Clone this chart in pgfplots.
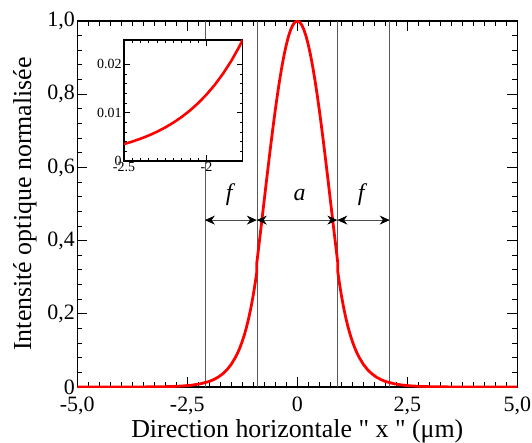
\documentclass[border=0pt]{standalone}
\usepackage{pgfplots}
\pgfplotsset{compat=1.18}
\usepackage{fontspec}
\setmainfont{Liberation Serif}
\newfontfamily\qfont{Liberation Serif}
\usetikzlibrary{arrows.meta}
\begin{document}
\begin{tikzpicture}
\begin{axis}[
  name=main,
  scale only axis,
  width=440bp, height=366bp,
  xmin=-5, xmax=5, ymin=0, ymax=1,
  axis line style={line width=1.4pt},
  tick align=inside,
  major tick length=10bp, minor tick length=5bp,
  every tick/.style={black, line width=0.9pt},
  xtick={-5,-2.5,0,2.5,5},
  xticklabels={{\textrm{-5,0}},{\textrm{-2,5}},{\textrm{0}},{\textrm{2,5}},{\textrm{5,0}}},
  ytick={0,0.2,0.4,0.6,0.8,1},
  yticklabels={{\textrm{0}},{\textrm{0,2}},{\textrm{0,4}},{\textrm{0,6}},{\textrm{0,8}},{\textrm{1,0}}},
  minor x tick num=9, minor y tick num=4,
  ticklabel style={font=\fontsize{22}{24}\selectfont},
  xticklabel style={yshift=-6bp},
  yticklabel style={xshift=1bp},
  label style={font=\fontsize{26}{28}\selectfont},
  xlabel={Direction horizontale {\qfont"} x {\qfont"} (μm)},
  ylabel={Intensité optique normalisée},
  ylabel style={yshift=4bp},
  xlabel style={yshift=2bp},
]
\addplot[gray!70!black, line width=0.6pt] coordinates {(-2.1,0) (-2.1,1)};
\addplot[gray!70!black, line width=0.6pt] coordinates {(-0.92,0) (-0.92,1)};
\addplot[gray!70!black, line width=0.6pt] coordinates {(0.91,0) (0.91,1)};
\addplot[gray!70!black, line width=0.6pt] coordinates {(2.1,0) (2.1,1)};
\addplot[red, line width=2.8pt] coordinates {
(-5,0) (-4,0.00006) (-3.5,0.0002) (-3,0.0009) (-2.8,0.0016) (-2.6,0.0029) (-2.4,0.0050) (-2.2,0.0088) (-2.0,0.0153) (-1.9,0.0203) (-1.8,0.0268) (-1.7,0.0355) (-1.6,0.0469) (-1.5,0.0621) (-1.4,0.0822) (-1.35,0.0945) (-1.3,0.1087) (-1.25,0.1250) (-1.2,0.1438) (-1.15,0.1654) (-1.1,0.1903) (-1.05,0.2189) (-1.0,0.2518) (-0.95,0.2896) (-0.92,0.315) (-0.92,0.339) (-0.9,0.3597) (-0.85,0.4096) (-0.8,0.4609) (-0.75,0.5122) (-0.7,0.5638) (-0.65,0.6142) (-0.6,0.6639) (-0.55,0.7115) (-0.5,0.7572) (-0.45,0.7998) (-0.4,0.8394) (-0.35,0.8754) (-0.3,0.9074) (-0.25,0.9350) (-0.2,0.9581) (-0.15,0.9763) (-0.1,0.9894) (-0.05,0.9973) (0,1)
(0.05,0.9973) (0.1,0.9894) (0.15,0.9763) (0.2,0.9581) (0.25,0.9350) (0.3,0.9074) (0.35,0.8754) (0.4,0.8394) (0.45,0.7998) (0.5,0.7572) (0.55,0.7115) (0.6,0.6639) (0.65,0.6142) (0.7,0.5638) (0.75,0.5122) (0.8,0.4609) (0.85,0.4096) (0.9,0.3597) (0.92,0.339) (0.92,0.315) (0.95,0.2896) (1.0,0.2518) (1.05,0.2189) (1.1,0.1903) (1.15,0.1654) (1.2,0.1438) (1.25,0.1250) (1.3,0.1087) (1.35,0.0945) (1.4,0.0822) (1.5,0.0621) (1.6,0.0469) (1.7,0.0355) (1.8,0.0268) (1.9,0.0203) (2.0,0.0153) (2.2,0.0088) (2.4,0.0050) (2.6,0.0029) (2.8,0.0016) (3,0.0009) (3.5,0.0002) (4,0.00006) (5,0)
};
\addplot[gray!60!black, line width=0.8pt, {Stealth[length=10bp,width=9bp,black]}-{Stealth[length=10bp,width=9bp,black]}] coordinates {(-2.1,0.456) (-0.92,0.456)};
\addplot[gray!60!black, line width=0.8pt, {Stealth[length=10bp,width=9bp,black]}-{Stealth[length=10bp,width=9bp,black]}] coordinates {(-0.92,0.456) (0.91,0.456)};
\addplot[gray!60!black, line width=0.8pt, {Stealth[length=10bp,width=9bp,black]}-{Stealth[length=10bp,width=9bp,black]}] coordinates {(0.91,0.456) (2.1,0.456)};
\node[font=\fontsize{24}{26}\selectfont\itshape] at (axis cs:-1.55,0.525) {f};
\node[font=\fontsize{24}{26}\selectfont\itshape] at (axis cs:0.05,0.525) {a};
\node[font=\fontsize{24}{26}\selectfont\itshape] at (axis cs:1.45,0.525) {f};
\end{axis}
\begin{axis}[
  at={(46.7bp,226bp)}, anchor=south west,
  scale only axis,
  width=118.7bp, height=121bp,
  xmin=-2.5, xmax=-1.78, ymin=0, ymax=0.025,
  axis background/.style={fill=white},
  axis line style={line width=1.2pt},
  tick align=inside,
  major tick length=6bp, minor tick length=3bp,
  every tick/.style={black, line width=0.7pt},
  xtick={-2.5,-2}, xticklabels={{\textrm{-2.5}},{\textrm{-2}}},
  ytick={0,0.01,0.02}, yticklabels={{\textrm{0}},{\textrm{0.01}},{\textrm{0.02}}},
  scaled ticks=false,
  minor x tick num=9, minor y tick num=4,
  ticklabel style={font=\fontsize{14}{16}\selectfont},
  xticklabel style={yshift=2bp},
  yticklabel style={xshift=1bp},
]
\addplot[red, line width=2.6pt] coordinates {
(-2.5,0.0035) (-2.45,0.00401) (-2.4,0.00460) (-2.35,0.00527) (-2.3,0.00604) (-2.25,0.00693) (-2.2,0.00794) (-2.15,0.00910) (-2.1,0.01043) (-2.05,0.01196) (-2.0,0.01371) (-1.95,0.01571) (-1.9,0.01801) (-1.85,0.02064) (-1.8,0.02366) (-1.78,0.0250)
};
\end{axis}
\pgfresetboundingbox
\path[use as bounding box] (-77.3bp,-56bp) rectangle (454.7bp,387bp);
\end{tikzpicture}
\end{document}
